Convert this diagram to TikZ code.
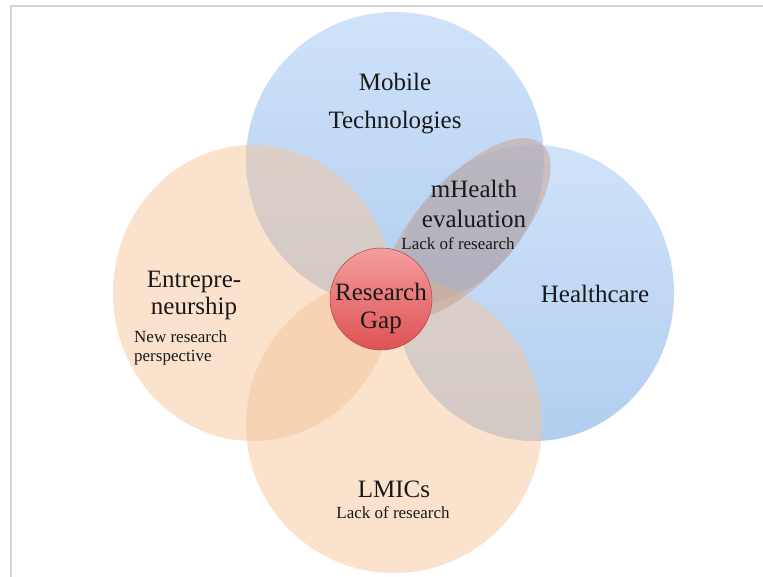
\documentclass[tikz,border=0pt]{standalone}
\usepackage{fontspec}
\setmainfont{Liberation Serif}
\usepackage{tikz}
\usetikzlibrary{
  	shapes,
  	positioning,
  	calc
  }

\definecolor{bubblue}{RGB}{160,198,245}
\definecolor{bubbluedk}{RGB}{100,158,225}
\definecolor{bubpeach}{RGB}{245,197,155}
\definecolor{lensbrown}{RGB}{200,160,140}
\definecolor{gapred}{RGB}{222,82,82}
\definecolor{gapredlt}{RGB}{244,158,158}
\definecolor{inktxt}{RGB}{25,25,25}

\begin{document}
\begin{tikzpicture}[x=1pt, y=-1pt,
  bubble/.style={ellipse, inner sep=0pt, fill opacity=.5},
  blueb/.style={bubble, top color=bubblue, bottom color=bubbluedk},
  peachb/.style={bubble, fill=bubpeach},
  bigtxt/.style={font=\fontsize{25}{30}\selectfont, text=inktxt, anchor=base, align=center, inner sep=0pt},
  smalltxt/.style={font=\fontsize{17}{19}\selectfont, text=inktxt, anchor=base, align=center, inner sep=0pt}]
	\useasboundingbox (0,0) rectangle (763,577);
	\draw[black!17, line width=2pt] (11,577) -- (11,6.5) -- (763,6.5);
%
	% blue ones first, the peach ones lie over them
	\node[blueb, minimum width=298pt, minimum height=296pt] (Mob) at (395,160) {};
	\node[blueb, minimum width=280pt, minimum height=296pt] (Hc) at (534,293) {};
	\node[peachb, minimum width=280pt, minimum height=296pt] (Ent) at (253,293) {};
	\node[peachb, minimum width=296pt, minimum height=296pt] (Lm) at (394,425) {};
	\node[bubble, fill=lensbrown, minimum width=228pt, minimum height=98pt, rotate=48] (Ev) at (466,229) {};
	\node[circle, minimum size=102pt, inner sep=0pt, top color=gapredlt, bottom color=gapred, draw=gapred!80!black, line width=.5pt] (Gap) at (381,299) {};
%
	% multi-line nodes sit on the baseline of their last line
	\node[bigtxt] (Mobtxt) at (395,129) {Mobile\\[8pt]Technologies};
	\node[bigtxt] (Evtxt) at (474,228) {mHealth\\evaluation};
	\node[smalltxt] (Evsub) at (458,250) {Lack of research};
	\node[bigtxt] (Enttxt) at (194,315) {Entrepre-\\[-2pt]neurship};
	\node[smalltxt, anchor=base west, align=left] (Entsub) at (134,361) {New research\\perspective};
	\node[bigtxt] (Hctxt) at (595,302) {Healthcare};
	\node[bigtxt] (Gaptxt) at (381,328) {Research\\[-2pt]Gap};
	\node[bigtxt] (Lmtxt) at (394,497) {LMICs};
	\node[smalltxt] (Lmsub) at (393,518) {Lack of research};
\end{tikzpicture}
\end{document}
